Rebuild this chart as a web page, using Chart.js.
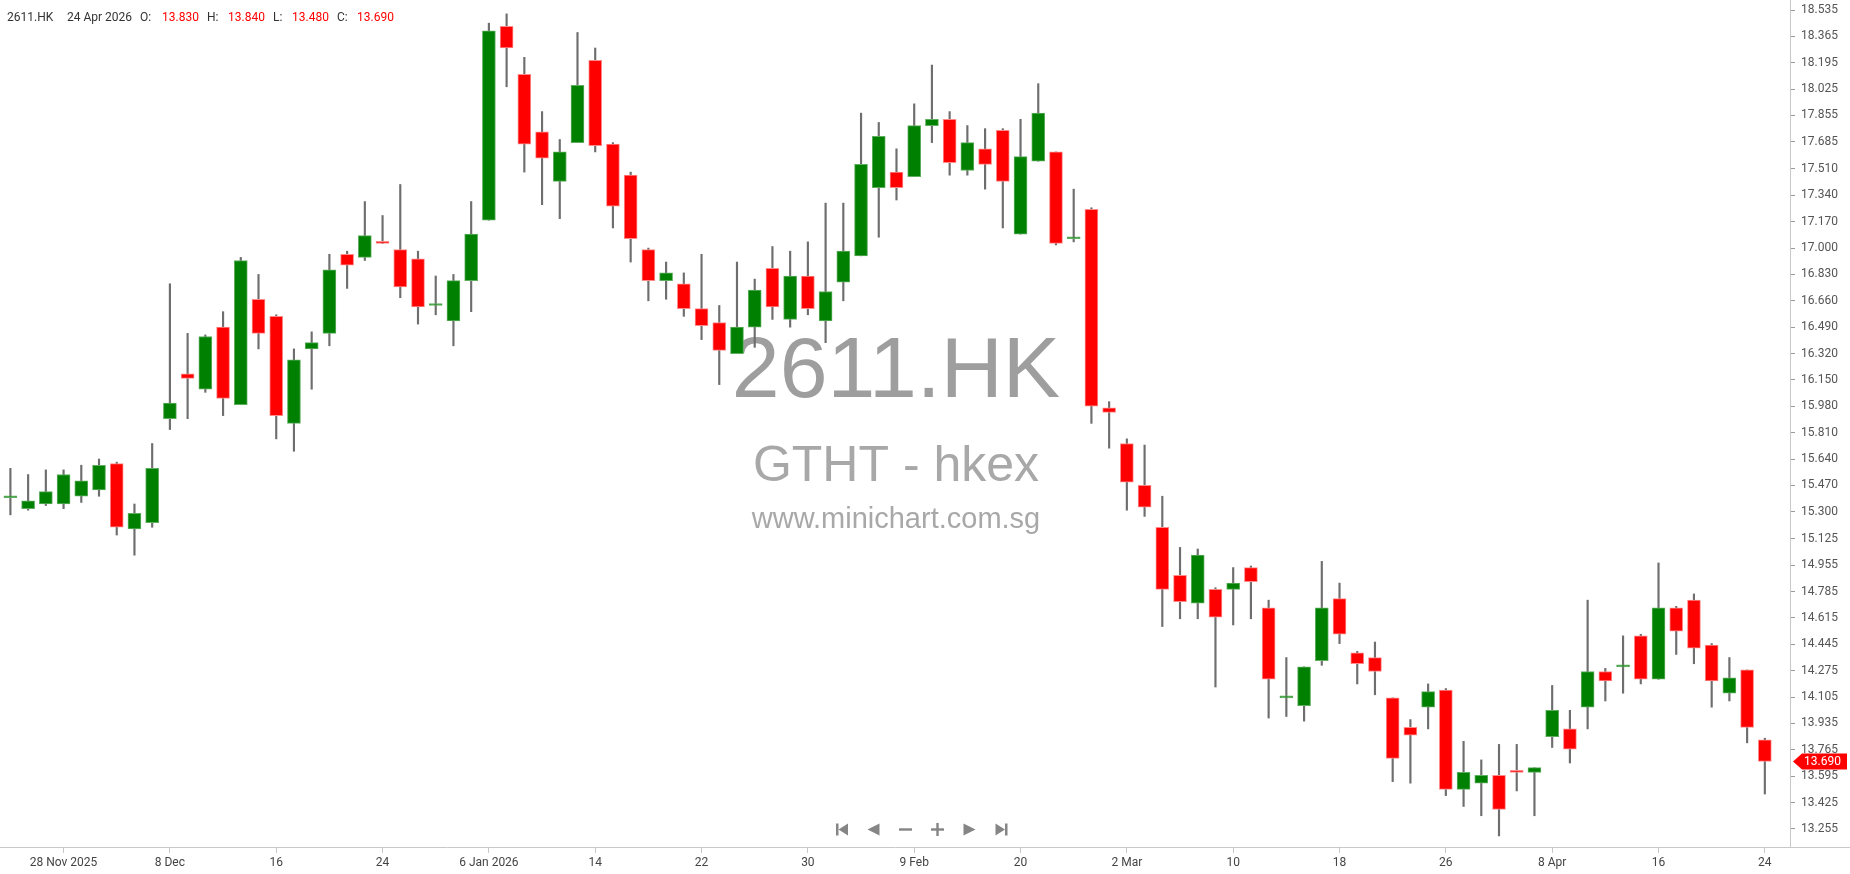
<!DOCTYPE html>
<html>
<head>
<meta charset="utf-8">
<title>2611.HK</title>
<script src="https://cdn.jsdelivr.net/npm/chart.js@4.4.1/dist/chart.umd.min.js"></script>
<style>
  html, body { margin: 0; padding: 0; background: #fff; }
  #wrap { width: 1850px; height: 874px; }
</style>
</head>
<body>
<div id="wrap"><canvas id="candleChart" width="1850" height="874"></canvas></div>
<script>
// ---- Data ----
const dates = [
    "2025-11-25", "2025-11-26", "2025-11-27", "2025-11-28", "2025-12-01", "2025-12-02", "2025-12-03", "2025-12-04", "2025-12-05", "2025-12-08",
    "2025-12-09", "2025-12-10", "2025-12-11", "2025-12-12", "2025-12-15", "2025-12-16", "2025-12-17", "2025-12-18", "2025-12-19", "2025-12-22",
    "2025-12-23", "2025-12-24", "2025-12-29", "2025-12-30", "2025-12-31", "2026-01-02", "2026-01-05", "2026-01-06", "2026-01-07", "2026-01-08",
    "2026-01-09", "2026-01-12", "2026-01-13", "2026-01-14", "2026-01-15", "2026-01-16", "2026-01-19", "2026-01-20", "2026-01-21", "2026-01-22",
    "2026-01-23", "2026-01-26", "2026-01-27", "2026-01-28", "2026-01-29", "2026-01-30", "2026-02-02", "2026-02-03", "2026-02-04", "2026-02-05",
    "2026-02-06", "2026-02-09", "2026-02-10", "2026-02-11", "2026-02-12", "2026-02-13", "2026-02-16", "2026-02-20", "2026-02-23", "2026-02-24",
    "2026-02-25", "2026-02-26", "2026-02-27", "2026-03-02", "2026-03-03", "2026-03-04", "2026-03-05", "2026-03-06", "2026-03-09", "2026-03-10",
    "2026-03-11", "2026-03-12", "2026-03-13", "2026-03-16", "2026-03-17", "2026-03-18", "2026-03-19", "2026-03-20", "2026-03-23", "2026-03-24",
    "2026-03-25", "2026-03-26", "2026-03-27", "2026-03-30", "2026-03-31", "2026-04-01", "2026-04-02", "2026-04-08", "2026-04-09", "2026-04-10",
    "2026-04-13", "2026-04-14", "2026-04-15", "2026-04-16", "2026-04-17", "2026-04-20", "2026-04-21", "2026-04-22", "2026-04-23", "2026-04-24"
];
const opens = [
    15.39, 15.32, 15.35, 15.35, 15.40, 15.44, 15.61, 15.19, 15.23, 15.90,
    16.19, 16.09, 16.49, 15.99, 16.67, 16.56, 15.87, 16.35, 16.45, 16.96,
    16.94, 17.04, 16.99, 16.93, 16.63, 16.53, 16.79, 17.18, 18.43, 18.12,
    17.75, 17.43, 17.68, 18.21, 17.67, 17.47, 16.99, 16.79, 16.77, 16.61,
    16.52, 16.32, 16.49, 16.87, 16.54, 16.82, 16.53, 16.78, 16.95, 17.39,
    17.49, 17.46, 17.79, 17.83, 17.50, 17.64, 17.76, 17.09, 17.56, 17.62,
    17.06, 17.25, 15.97, 15.74, 15.47, 15.20, 14.89, 14.71, 14.80, 14.80,
    14.94, 14.68, 14.10, 14.05, 14.34, 14.74, 14.39, 14.36, 14.10, 13.91,
    14.04, 14.15, 13.51, 13.55, 13.60, 13.63, 13.62, 13.85, 13.90, 14.04,
    14.27, 14.30, 14.50, 14.22, 14.68, 14.73, 14.44, 14.13, 14.28, 13.83
];
const highs = [
    15.58, 15.54, 15.57, 15.57, 15.60, 15.64, 15.62, 15.35, 15.74, 16.77,
    16.45, 16.44, 16.59, 16.94, 16.83, 16.57, 16.35, 16.46, 16.96, 16.98,
    17.30, 17.21, 17.41, 16.98, 16.82, 16.83, 17.30, 18.45, 18.51, 18.23,
    17.88, 17.70, 18.39, 18.29, 17.68, 17.49, 17.00, 16.91, 16.84, 16.96,
    16.63, 16.91, 16.80, 17.01, 16.98, 17.04, 17.29, 17.29, 17.87, 17.81,
    17.64, 17.93, 18.18, 17.88, 17.79, 17.77, 17.77, 17.83, 18.06, 17.62,
    17.38, 17.26, 16.01, 15.77, 15.73, 15.40, 15.07, 15.06, 14.81, 14.94,
    14.95, 14.73, 14.36, 14.30, 14.98, 14.84, 14.40, 14.46, 14.10, 13.96,
    14.19, 14.16, 13.82, 13.70, 13.80, 13.80, 13.65, 14.18, 14.02, 14.73,
    14.29, 14.50, 14.51, 14.97, 14.69, 14.77, 14.45, 14.36, 14.28, 13.84
];
const lows = [
    15.28, 15.31, 15.34, 15.32, 15.36, 15.40, 15.15, 15.02, 15.20, 15.83,
    15.90, 16.07, 15.92, 15.99, 16.35, 15.77, 15.69, 16.09, 16.37, 16.74,
    16.92, 17.03, 16.68, 16.51, 16.57, 16.37, 16.59, 17.18, 18.04, 17.49,
    17.28, 17.19, 17.68, 17.62, 17.13, 16.91, 16.66, 16.67, 16.56, 16.41,
    16.12, 16.32, 16.36, 16.54, 16.49, 16.57, 16.39, 16.66, 16.95, 17.07,
    17.31, 17.46, 17.68, 17.47, 17.47, 17.38, 17.13, 17.09, 17.56, 17.02,
    17.04, 15.87, 15.71, 15.31, 15.27, 14.56, 14.61, 14.61, 14.17, 14.57,
    14.61, 13.97, 13.98, 13.95, 14.31, 14.45, 14.19, 14.12, 13.56, 13.55,
    13.90, 13.47, 13.40, 13.34, 13.21, 13.50, 13.34, 13.78, 13.68, 13.90,
    14.08, 14.13, 14.19, 14.22, 14.38, 14.32, 14.04, 14.08, 13.81, 13.48
];
const closes = [
    15.39, 15.37, 15.43, 15.54, 15.50, 15.60, 15.20, 15.29, 15.58, 16.00,
    16.16, 16.43, 16.03, 16.92, 16.45, 15.92, 16.28, 16.39, 16.86, 16.89,
    17.08, 17.03, 16.75, 16.62, 16.63, 16.79, 17.09, 18.40, 18.29, 17.67,
    17.58, 17.62, 18.05, 17.66, 17.27, 17.06, 16.79, 16.84, 16.61, 16.50,
    16.34, 16.49, 16.73, 16.62, 16.82, 16.61, 16.72, 16.98, 17.54, 17.72,
    17.39, 17.79, 17.83, 17.55, 17.68, 17.54, 17.43, 17.59, 17.87, 17.03,
    17.06, 15.98, 15.94, 15.49, 15.33, 14.80, 14.72, 15.02, 14.62, 14.84,
    14.85, 14.22, 14.10, 14.30, 14.68, 14.51, 14.32, 14.27, 13.71, 13.86,
    14.14, 13.51, 13.62, 13.60, 13.38, 13.62, 13.65, 14.02, 13.77, 14.27,
    14.21, 14.30, 14.22, 14.68, 14.53, 14.42, 14.21, 14.23, 13.91, 13.69
];
const xTickDates = ["2025-11-28", "2025-12-08", "2025-12-16", "2025-12-24", "2026-01-06", "2026-01-14", "2026-01-22", "2026-01-30", "2026-02-09",
    "2026-02-20", "2026-03-02", "2026-03-10", "2026-03-18", "2026-03-26", "2026-04-08", "2026-04-16", "2026-04-24"];
const xTickLabels = ["28 Nov 2025", "8 Dec", "16", "24", "6 Jan 2026", "14", "22", "30", "9 Feb",
    "20", "2 Mar", "10", "18", "26", "8 Apr", "16", "24"];
const yTickValues = [18.535, 18.365, 18.195, 18.025, 17.855, 17.685, 17.510, 17.340, 17.170, 17.000, 16.830,
    16.660, 16.490, 16.320, 16.150, 15.980, 15.810, 15.640, 15.470, 15.300, 15.125,
    14.955, 14.785, 14.615, 14.445, 14.275, 14.105, 13.935, 13.765, 13.595, 13.425, 13.255];
const symbol = "2611.HK";
const subtitle = "GTHT - hkex";
const siteUrl = "www.minichart.com.sg";
const headerDate = "24 Apr 2026";

window.onload = function() {
// ---- Chart.js global style ----
Chart.defaults.font.family = "Roboto, 'Open Sans', sans-serif";
Chart.defaults.font.size = 12;
Chart.defaults.color = "#444";

const upColor = "#008000";
const downColor = "#ff0000";
const idx = dates.map((d, i) => i);
const up = idx.map(i => closes[i] >= opens[i]);
const last = dates.length - 1;
const xTickIndex = xTickDates.map(d => dates.indexOf(d));

// ---- Watermark (behind the candles) ----
const watermark = {
    id: "watermark",
    beforeDatasetsDraw(chart) {
        const { ctx, chartArea } = chart;
        const cx = (chartArea.left + chartArea.right) / 2 + 1;
        ctx.save();
        ctx.textAlign = "center";
        ctx.fillStyle = "#9e9e9e";
        ctx.font = "86px 'Liberation Sans', Arial, sans-serif";
        ctx.fillText(symbol, cx, 397);
        ctx.fillStyle = "#a8a8a8";
        ctx.font = "50px 'Liberation Sans', Arial, sans-serif";
        ctx.fillText(subtitle, cx, 481);
        ctx.font = "29px 'Liberation Sans', Arial, sans-serif";
        ctx.fillText(siteUrl, cx, 528);
        ctx.restore();
    }
};

// ---- OHLC header (top left) ----
const header = {
    id: "header",
    afterDraw(chart) {
        const ctx = chart.ctx;
        const parts = [
            [symbol, 7, "#333"], [headerDate, 67, "#333"],
            ["O:", 140, "#333"], [opens[last].toFixed(3), 162, "#ff0000"],
            ["H:", 207, "#333"], [highs[last].toFixed(3), 228, "#ff0000"],
            ["L:", 273, "#333"], [lows[last].toFixed(3), 292, "#ff0000"],
            ["C:", 337, "#333"], [closes[last].toFixed(3), 357, "#ff0000"]
        ];
        ctx.save();
        ctx.font = "12px Roboto, sans-serif";
        ctx.textBaseline = "middle";
        parts.forEach(p => { ctx.fillStyle = p[2]; ctx.fillText(p[0], p[1], 18); });
        ctx.restore();
    }
};

// ---- Last price tag on the right axis ----
const priceTag = {
    id: "priceTag",
    afterDraw(chart) {
        const ctx = chart.ctx;
        const y = chart.scales.y.getPixelForValue(closes[last]);
        const x0 = chart.chartArea.right + 3;
        ctx.save();
        ctx.fillStyle = up[last] ? upColor : downColor;
        ctx.beginPath();
        ctx.moveTo(x0, y);
        ctx.lineTo(x0 + 9, y - 8);
        ctx.lineTo(1847, y - 8);
        ctx.lineTo(1847, y + 8);
        ctx.lineTo(x0 + 9, y + 8);
        ctx.closePath();
        ctx.fill();
        ctx.fillStyle = "#fff";
        ctx.font = "12px Roboto, sans-serif";
        ctx.textBaseline = "middle";
        ctx.fillText(closes[last].toFixed(3), x0 + 11, y + 0.5);
        ctx.restore();
    }
};

// ---- Navigation buttons + axis line extension ----
const extras = {
    id: "extras",
    afterDraw(chart) {
        const ctx = chart.ctx;
        const bottom = chart.chartArea.bottom;
        ctx.save();
        ctx.strokeStyle = "#c8c8c8";
        ctx.lineWidth = 1;
        ctx.beginPath();
        ctx.moveTo(chart.chartArea.right, bottom + 0.5);
        ctx.lineTo(chart.width, bottom + 0.5);
        ctx.stroke();

        ctx.fillStyle = "#858585";
        const cy = 829.5;
        const tri = (tip, base) => {
            ctx.beginPath();
            ctx.moveTo(tip, cy);
            ctx.lineTo(base, cy - 6);
            ctx.lineTo(base, cy + 6);
            ctx.closePath();
            ctx.fill();
        };
        let cx = 842;
        ctx.fillRect(cx - 6, cy - 6, 2.5, 12); tri(cx - 3.5, cx + 6);
        cx = 873.5; tri(cx - 6, cx + 6);
        cx = 905.5; ctx.fillRect(cx - 6.5, cy - 1.2, 13, 2.4);
        cx = 937.5; ctx.fillRect(cx - 6.5, cy - 1.2, 13, 2.4); ctx.fillRect(cx - 1.2, cy - 6.5, 2.4, 13);
        cx = 969.5; tri(cx + 6, cx - 6);
        cx = 1001.5; tri(cx + 3.5, cx - 6); ctx.fillRect(cx + 3.5, cy - 6, 2.5, 12);
        ctx.restore();
    }
};

// ---- Candlesticks (floating bars: wicks + bodies) ----
const ctxCandle = document.getElementById("candleChart").getContext("2d");
new Chart(ctxCandle, {
    type: "bar",
    data: {
        datasets: [
            {
                label: "Body",
                order: 0,
                grouped: false,
                data: idx.map(i => ({ x: i, y: [opens[i], closes[i]] })),
                backgroundColor: idx.map(i => up[i] ? upColor : downColor),
                borderColor: idx.map(i => up[i] ? "#5fae5f" : "#ff8a8a"),
                borderWidth: 1,
                borderSkipped: false,
                barThickness: 13,
                maxBarThickness: 13,
                minBarLength: 2
            },
            {
                label: "Wick",
                order: 1,
                grouped: false,
                data: idx.map(i => ({ x: i, y: [lows[i], highs[i]] })),
                backgroundColor: "#6e6e6e",
                borderWidth: 0,
                barThickness: 1.5,
                maxBarThickness: 1.5
            }
        ]
    },
    options: {
        responsive: false,
        animation: false,
        events: [],
        layout: { padding: 0 },
        plugins: {
            legend: { display: false },
            tooltip: { enabled: false }
        },
        scales: {
            x: {
                type: "linear",
                offset: false,
                min: -0.587,
                max: 100.42,
                afterBuildTicks: s => { s.ticks = xTickIndex.map(v => ({ value: v })); },
                afterFit: s => { s.height = 27; s.paddingLeft = 0; s.paddingRight = 0; },
                grid: { offset: false, drawOnChartArea: false, tickLength: 6, color: "#c8c8c8" },
                border: { color: "#c8c8c8" },
                ticks: {
                    autoSkip: false,
                    maxRotation: 0,
                    padding: 3,
                    color: "#444",
                    callback: (v, i) => xTickLabels[i]
                }
            },
            y: {
                position: "right",
                min: 13.1385,
                max: 18.5995,
                afterBuildTicks: s => { s.ticks = yTickValues.map(v => ({ value: v })); },
                afterFit: s => { s.width = 60; s.paddingTop = 0; s.paddingBottom = 0; },
                grid: { drawOnChartArea: false, tickLength: 5, color: "#999" },
                border: { color: "#c8c8c8" },
                ticks: {
                    padding: 6,
                    color: "#555",
                    callback: v => v.toFixed(3)
                }
            }
        }
    },
    plugins: [watermark, header, priceTag, extras]
});

}
</script>
</body>
</html>
